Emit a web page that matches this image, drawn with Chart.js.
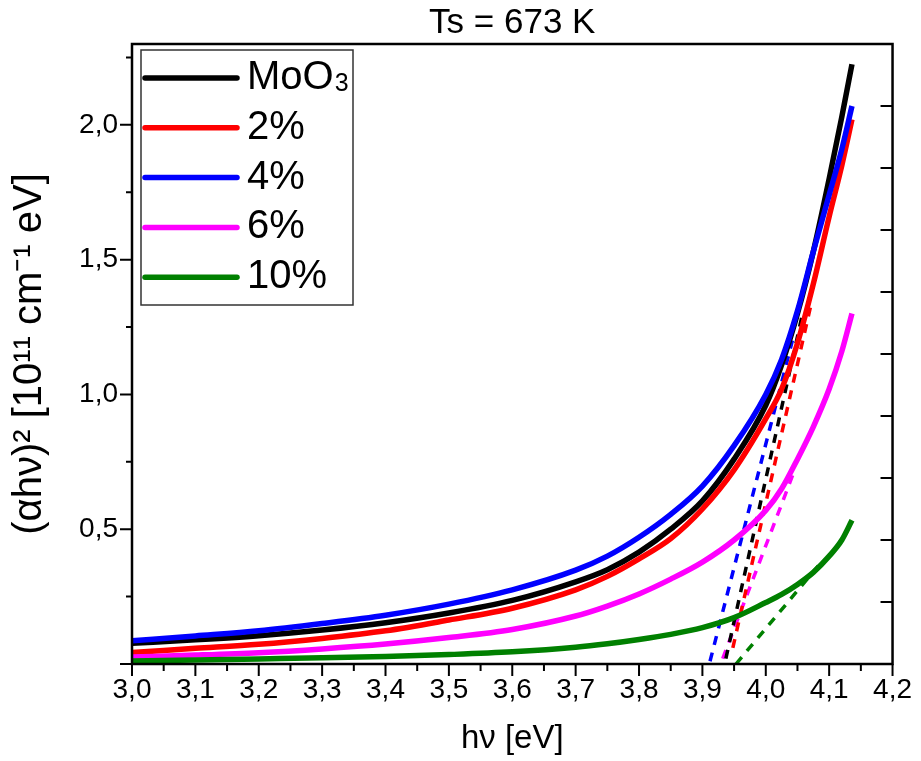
<!DOCTYPE html>
<html>
<head>
<meta charset="utf-8">
<title>Ts = 673 K</title>
<script src="https://cdn.jsdelivr.net/npm/chart.js@4.4.1/dist/chart.umd.min.js"></script>
<style>
  html, body { margin: 0; padding: 0; background: #fff; }
  #wrap { width: 921px; height: 761px; }
</style>
</head>
<body>
<div id="wrap"><canvas id="tauc"></canvas></div>
<script>
// photon energy hν [eV] shared by the five measured curves
const hv = [3.0, 3.1, 3.2, 3.3, 3.4, 3.5, 3.6, 3.7, 3.75, 3.8, 3.85, 3.9, 3.95, 4.0, 4.025, 4.05, 4.075, 4.1, 4.12, 4.136];

// (αhν)² in 10^11 cm^-1 eV
const yMoO3  = [0.077, 0.0895, 0.105, 0.126, 0.153, 0.189, 0.236, 0.305, 0.350, 0.415, 0.500, 0.605, 0.760, 0.960, 1.110, 1.300, 1.530, 1.800, 2.030, 2.225];
const y2pct  = [0.043, 0.058, 0.073, 0.095, 0.123, 0.163, 0.207, 0.275, 0.325, 0.390, 0.465, 0.575, 0.720, 0.910, 1.020, 1.190, 1.410, 1.660, 1.850, 2.020];
const y4pct  = [0.086, 0.104, 0.123, 0.150, 0.181, 0.222, 0.275, 0.348, 0.400, 0.470, 0.555, 0.660, 0.810, 1.000, 1.130, 1.310, 1.530, 1.740, 1.910, 2.070];
const y6pct  = [0.026, 0.033, 0.042, 0.056, 0.074, 0.098, 0.128, 0.178, 0.215, 0.260, 0.315, 0.378, 0.460, 0.570, 0.650, 0.760, 0.880, 1.020, 1.160, 1.300];
const y10pct = [0.011, 0.015, 0.019, 0.023, 0.028, 0.035, 0.045, 0.062, 0.075, 0.091, 0.110, 0.135, 0.172, 0.228, 0.258, 0.295, 0.340, 0.400, 0.460, 0.533];

// dashed linear fits (band-gap extrapolation), two end points each
const fitXMoO3 = [3.937, 4.058], fitYMoO3 = [0.02, 1.30];
const fitX2    = [3.948, 4.072], fitY2    = [0.06, 1.34];
const fitX4    = [3.912, 4.042], fitY4    = [0.01, 1.20];
const fitX6    = [3.932, 4.044], fitY6    = [0.02, 0.71];
const fitX10   = [3.953, 4.085], fitY10   = [0.00, 0.37];

const seriesLabels = ["MoO₃", "2%", "4%", "6%", "10%"];
const xRange = [3.0, 4.2], yRange = [0, 2.3];

const COLORS = ["#000000", "#ff0000", "#0000ff", "#ff00ff", "#008000"];
const FONT = "'Liberation Sans', Arial, sans-serif";
const comma = v => v.toFixed(1).replace(".", ",");
const pts = (xs, ys) => xs.map((x, i) => ({ x, y: ys[i] }));

const curves = [yMoO3, y2pct, y4pct, y6pct, y10pct];
const fits = [[fitXMoO3, fitYMoO3], [fitX2, fitY2], [fitX4, fitY4], [fitX6, fitY6], [fitX10, fitY10]];

const datasets = [
  ...curves.map((ys, i) => ({
    label: seriesLabels[i], data: pts(hv, ys),
    borderColor: COLORS[i], borderWidth: 5.5, pointRadius: 0,
    cubicInterpolationMode: "monotone", order: 10 - i
  })),
  ...fits.map(([xs, ys], i) => ({
    label: seriesLabels[i] + " fit", data: pts(xs, ys), isFit: true,
    borderColor: COLORS[i], borderWidth: 3.5, borderDash: [9, 8], pointRadius: 0, order: 20
  }))
];

// title over the plot frame
const plotTitle = {
  id: "plotTitle",
  afterDraw(chart) {
    const { ctx, chartArea: a } = chart;
    ctx.save();
    ctx.font = `35px ${FONT}`; ctx.fillStyle = "#000";
    ctx.textAlign = "center"; ctx.textBaseline = "middle";
    ctx.fillText("Ts = 673 K", (a.left + a.right) / 2, 23);
    ctx.restore();
  }
};

// frame + Origin-style ticks (major/minor outside, right ticks inside)
const frameTicks = {
  id: "frameTicks",
  afterDatasetsDraw(chart) {
    const { ctx, chartArea: a, scales: { x, y, y2 } } = chart;
    const on = (v, n) => Math.abs(v * n - Math.round(v * n)) < 1e-6;
    ctx.save();
    ctx.strokeStyle = "#000"; ctx.lineWidth = 2;
    ctx.beginPath();
    x.ticks.forEach(t => {
      const p = x.getPixelForValue(t.value);
      ctx.moveTo(p, a.bottom); ctx.lineTo(p, a.bottom + (on(t.value, 10) ? 12 : 7));
    });
    y.ticks.forEach(t => {
      if (!on(t.value, 4)) return;
      const p = y.getPixelForValue(t.value);
      ctx.moveTo(a.left, p); ctx.lineTo(a.left - (on(t.value, 2) ? 12 : 6), p);
    });
    y2.ticks.forEach(t => {
      const p = y2.getPixelForValue(t.value);
      ctx.moveTo(a.right, p); ctx.lineTo(a.right - 12, p);
    });
    ctx.stroke();
    ctx.lineWidth = 2.5;
    ctx.strokeRect(a.left, a.top, a.right - a.left, a.bottom - a.top);
    ctx.restore();
  }
};

// boxed legend in the upper-left corner of the plot
const boxLegend = {
  id: "boxLegend",
  afterDraw(chart) {
    const { ctx, chartArea: a } = chart;
    const sets = chart.data.datasets.filter(d => !d.isFit);
    const L = a.left + 9, T = a.top + 6, W = 212, H = 255;
    ctx.save();
    ctx.fillStyle = "#fff"; ctx.fillRect(L, T, W, H);
    ctx.strokeStyle = "#333"; ctx.lineWidth = 1.5; ctx.strokeRect(L, T, W, H);
    sets.forEach((d, i) => {
      const cy = T + 28 + i * 49.8;
      ctx.strokeStyle = d.borderColor; ctx.lineWidth = 5.5; ctx.lineCap = "round";
      ctx.beginPath(); ctx.moveTo(L + 4, cy); ctx.lineTo(L + 96, cy); ctx.stroke();
      ctx.fillStyle = "#000"; ctx.textBaseline = "middle"; ctx.textAlign = "left";
      ctx.font = `40px ${FONT}`;
      const sub = d.label.match(/[₀-₉]/);
      const base = sub ? d.label.replace(sub[0], "") : d.label;
      ctx.fillText(base, L + 106, cy);
      if (sub) {
        const w = ctx.measureText(base).width;
        ctx.font = `25px ${FONT}`;
        ctx.fillText(String(sub[0].charCodeAt(0) - 0x2080), L + 106 + w + 1, cy + 6);
      }
    });
    ctx.restore();
  }
};

new Chart(document.getElementById("tauc"), {
  type: "line",
  data: { datasets },
  plugins: [plotTitle, frameTicks, boxLegend],
  options: {
    responsive: true, maintainAspectRatio: false, animation: false,
    devicePixelRatio: 1,
    layout: { padding: { top: 44, right: 23, left: 0, bottom: 0 } },
    plugins: { legend: { display: false }, tooltip: { enabled: false }, title: { display: false } },
    scales: {
      x: {
        type: "linear", min: xRange[0], max: xRange[1],
        grid: { display: false, drawTicks: false }, border: { display: false },
        ticks: {
          stepSize: 0.05, maxTicksLimit: 100, autoSkip: false, maxRotation: 0, padding: 9,
          color: "#000", font: { family: FONT, size: 28 },
          callback: v => Math.abs(v * 10 - Math.round(v * 10)) < 1e-6 ? comma(v) : ""
        },
        title: { display: true, text: "hν [eV]", color: "#000", font: { family: FONT, size: 33 }, padding: { top: 0, bottom: 2 } },
        afterFit: s => { s.height = 97; }
      },
      y: {
        min: yRange[0], max: yRange[1],
        grid: { display: false, drawTicks: false }, border: { display: false },
        ticks: {
          stepSize: 0.25, includeBounds: false, maxTicksLimit: 100, padding: 14,
          color: "#000", font: { family: FONT, size: 28 },
          callback: v => v > 0 && Math.abs(v * 2 - Math.round(v * 2)) < 1e-6 ? comma(v) : ""
        },
        title: { display: true, text: "(αhν)² [10¹¹ cm⁻¹ eV]", color: "#000", font: { family: FONT, size: 40 }, padding: { top: 6, bottom: 0 } },
        afterFit: s => { s.width = 132; }
      },
      y2: {
        position: "right", display: false, min: 0, max: 1,
        ticks: { stepSize: 0.1 }
      }
    }
  }
});
</script>
</body>
</html>
